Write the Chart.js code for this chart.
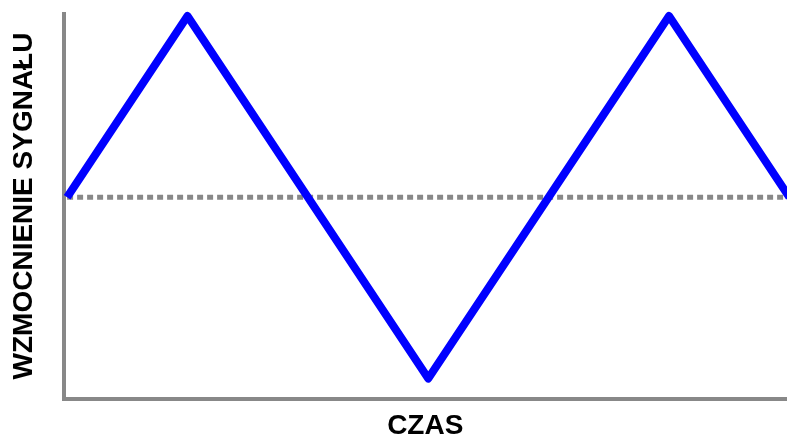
<!DOCTYPE html>
<html>
<head>
<meta charset="utf-8">
<script src="https://cdn.jsdelivr.net/npm/chart.js@4/dist/chart.umd.min.js"></script>
<style>
  html, body { margin: 0; padding: 0; background: #ffffff; }
  #wrap { width: 787px; height: 436px; position: relative; }
</style>
</head>
<body>
<div id="wrap"><canvas id="c"></canvas></div>
<script>
// Data
const timeValues = [0, 1, 3, 5, 6];
const signalValues = [0, 1, -1, 1, 0];
const baselineTime = [0, 6];
const baselineValue = [0, 0];
const xTitle = 'CZAS';
const yTitle = 'WZMOCNIENIE SYGNAŁU';

const signalPoints = timeValues.map((t, i) => ({ x: t, y: signalValues[i] }));
const baselinePoints = baselineTime.map((t, i) => ({ x: t, y: baselineValue[i] }));

const titleFont = { family: '"Liberation Sans", Arial, sans-serif', size: 28, weight: 'bold' };

new Chart(document.getElementById('c'), {
  type: 'line',
  data: {
    datasets: [
      {
        data: signalPoints,
        borderColor: '#0000ff',
        borderWidth: 8,
        borderJoinStyle: 'round',
        pointRadius: 0,
        tension: 0,
        fill: false,
        order: 0,
        clip: false
      },
      {
        data: baselinePoints,
        borderColor: '#888888',
        borderWidth: 5,
        borderDash: [6, 4],
        borderCapStyle: 'butt',
        pointRadius: 0,
        tension: 0,
        fill: false,
        order: 1
      }
    ]
  },
  options: {
    responsive: true,
    maintainAspectRatio: false,
    animation: false,
    devicePixelRatio: 1,
    layout: { padding: { top: 13.5, right: 0, bottom: 0, left: 0 } },
    plugins: { legend: { display: false }, tooltip: { enabled: false } },
    scales: {
      x: {
        type: 'linear',
        min: -0.03,
        max: 5.98,
        grid: { display: false },
        ticks: { display: false },
        border: { display: true, color: '#888888', width: 4 },
        title: {
          display: true,
          text: xTitle,
          color: '#000000',
          font: Object.assign({ lineHeight: 0.8 }, titleFont),
          padding: { top: 0, bottom: -1 }
        },
        afterFit: (s) => { s.height = 37.5; }
      },
      y: {
        type: 'linear',
        min: -1.11,
        max: 1.014,
        grid: { display: false },
        ticks: { display: false },
        border: { display: true, color: '#888888', width: 4 },
        title: {
          display: true,
          text: yTitle,
          color: '#000000',
          font: Object.assign({ lineHeight: 1.2 }, titleFont),
          padding: { top: 7, bottom: 0 }
        },
        afterFit: (s) => { s.width = 63.5; }
      }
    }
  }
});
</script>
</body>
</html>
